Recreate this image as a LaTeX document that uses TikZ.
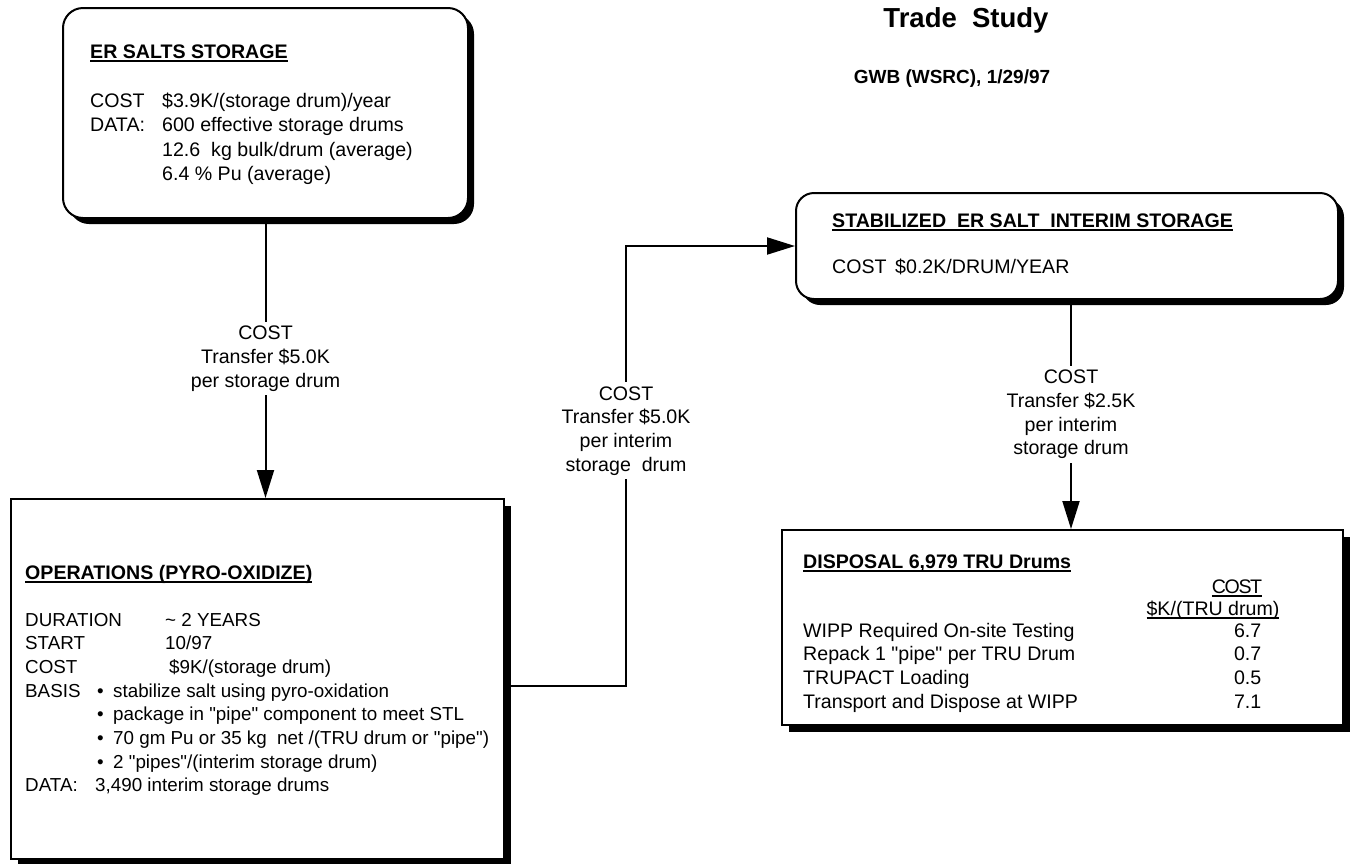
\documentclass[tikz,border=0pt]{standalone}
\usepackage{fontspec}
\setmainfont{Liberation Sans}[Ligatures=TeXOff]
\usetikzlibrary{shadows,arrows.meta}

\newcommand{\ultext}[1]{\setbox0=\hbox{#1}\rlap{\rule[-4pt]{\wd0}{1.8pt}}\box0}

\begin{document}
\begin{tikzpicture}[
  x=1pt, y=-1pt,
  font=\fontsize{19.6}{23.7}\selectfont,
  rbox/.style={draw, line width=2pt, fill=white, rounded corners=20pt, anchor=north west, inner sep=0pt,
    drop shadow={shadow xshift=6pt, shadow yshift=-6pt, fill=black, opacity=1}},
  sbox/.style={draw, line width=2pt, fill=white, anchor=north west, inner sep=0pt,
    drop shadow={shadow xshift=7pt, shadow yshift=-7pt, fill=black, opacity=1}},
  txt/.style={anchor=base west, inner sep=0pt},
  lbl/.style={fill=white, align=center, inner sep=4pt},
  arr/.style={-{Triangle[length=28pt,width=17pt]}, line width=2pt}
]
\useasboundingbox (0,0) rectangle (1360,863);

% Heading
\node[anchor=base, inner sep=0pt] (title) at (966,27) {\fontsize{27.5}{30}\selectfont\textbf{Trade\ \ Study}};
\node[anchor=base, inner sep=0pt] (author) at (952,83) {\fontsize{19}{22}\selectfont\textbf{GWB (WSRC), 1/29/97}};

% Storage
\node[rbox, minimum width=405pt, minimum height=210pt] (erbox) at (62,7) {};
\node[txt] (ertitle) at (90,58) {\textbf{\ultext{ER SALTS STORAGE}}};
\node[txt] (erdata) at (90,107) {\def\arraystretch{1.04}\begin{tabular}[t]{@{}l@{}}
\makebox[72pt][l]{COST}\$3.9K/(storage drum)/year\\
\makebox[72pt][l]{DATA:}600 effective storage drums\\
\hspace*{72pt}12.6\ \ kg bulk/drum (average)\\
\hspace*{72pt}6.4 \% Pu (average)
\end{tabular}};

% Operations
\node[sbox, minimum width=493pt, minimum height=360pt] (opsbox) at (10,498) {};
\node[txt] (opstitle) at (25,579) {\textbf{\ultext{OPERATIONS (PYRO-OXIDIZE)}}};
\node[txt, font=\fontsize{18.8}{23.7}\selectfont] (opsdata) at (25,626) {\begin{tabular}[t]{@{}l@{}}
\makebox[140pt][l]{DURATION}\textasciitilde\ 2 YEARS\\
\makebox[140pt][l]{START}10/97\\
\makebox[144pt][l]{COST}\$9K/(storage drum)\\
\makebox[72pt][l]{BASIS}\makebox[16pt][l]{\textbullet}stabilize salt using pyro-oxidation\\
\hspace*{72pt}\makebox[16pt][l]{\textbullet}package in "pipe" component to meet STL\\
\hspace*{72pt}\makebox[16pt][l]{\textbullet}70 gm Pu or 35 kg\ \ net /(TRU drum or "pipe")\\
\hspace*{72pt}\makebox[16pt][l]{\textbullet}2 "pipes"/(interim storage drum)\\
\makebox[70pt][l]{DATA:}3,490 interim storage drums
\end{tabular}};

% Interim storage
\node[rbox, rounded corners=18pt, minimum width=542pt, minimum height=106pt] (stabbox) at (795,192) {};
\node[txt] (stabtitle) at (832,227) {\textbf{\ultext{STABILIZED\ \ ER SALT\ \ INTERIM STORAGE}}};
\node[txt] (stabcost) at (832,273) {\makebox[63pt][l]{COST}\$0.2K/DRUM/YEAR};

% Disposal
\node[sbox, minimum width=561pt, minimum height=195pt] (dispbox) at (781,529) {};
\node[txt] (disptitle) at (803,568) {\textbf{\ultext{DISPOSAL 6,979 TRU Drums}}};
\node[anchor=base, inner sep=0pt] (costhead) at (1237,593) {\ultext{\addfontfeature{LetterSpace=-7}COST}};
\node[anchor=base, inner sep=0pt] (unithead) at (1213,615) {\ultext{\$K/(TRU drum)}};
\node[txt] (disprows) at (803,637) {\begin{tabular}[t]{@{}l@{}}
\makebox[431pt][l]{WIPP Required On-site Testing}\makebox[27pt]{6.7}\\
\makebox[431pt][l]{Repack 1 "pipe" per TRU Drum}\makebox[27pt]{0.7}\\
\makebox[431pt][l]{TRUPACT Loading}\makebox[27pt]{0.5}\\
\makebox[431pt][l]{Transport and Dispose at WIPP}\makebox[27pt]{7.1}
\end{tabular}};

% Transfers
\draw[arr] (erbox.south) -- node[lbl] (xferA) {COST\\Transfer \$5.0K\\per storage drum} (erbox.south |- opsbox.north);
\draw[arr] ([yshift=-7pt]opsbox.east) -- ++(121,0) |- node[lbl, pos=0.29] (xferB) {COST\\Transfer \$5.0K\\per interim\\storage\ \ drum} (stabbox.west);
\draw[arr] ([xshift=4pt]stabbox.south) -- node[lbl] (xferC) {COST\\Transfer \$2.5K\\per interim\\storage drum} ([xshift=4pt]stabbox.south |- dispbox.north);
\end{tikzpicture}
\end{document}
